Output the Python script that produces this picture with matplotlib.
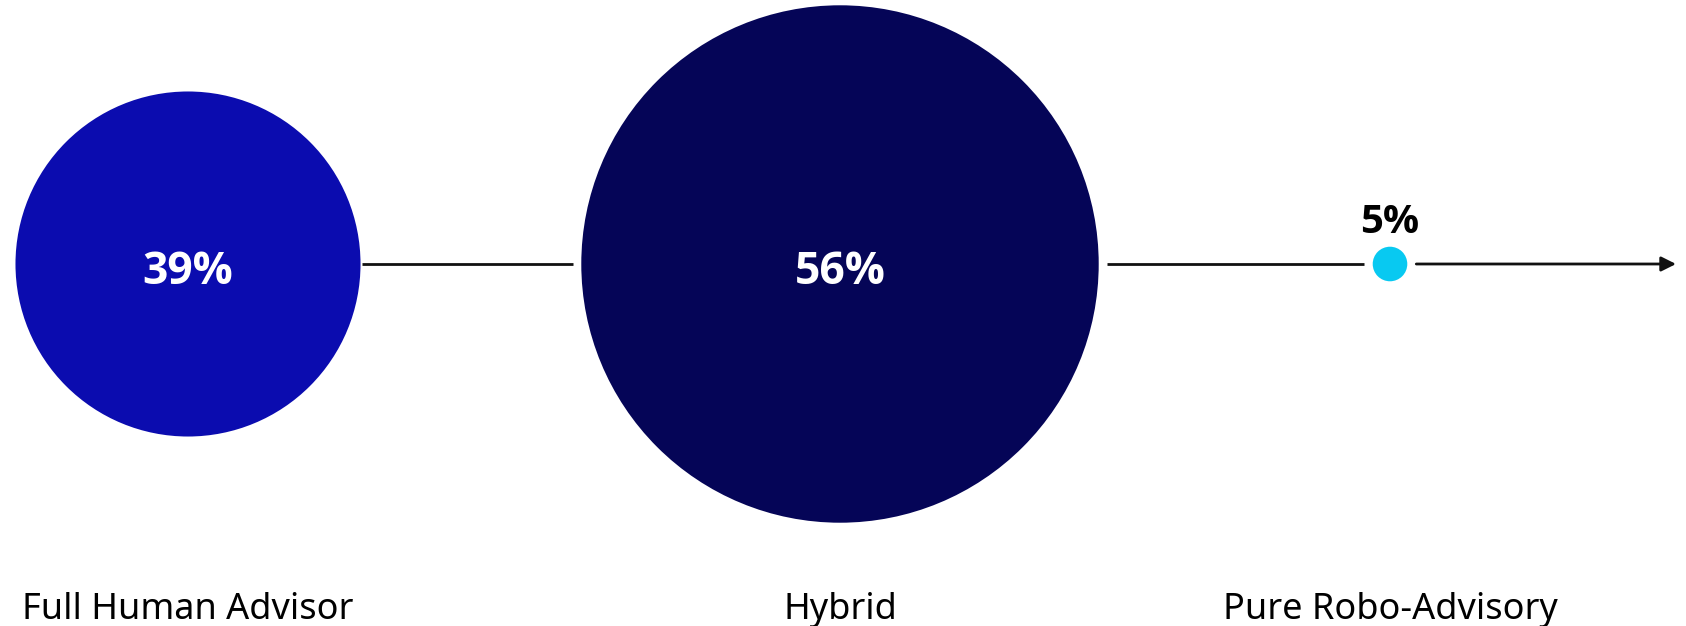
import matplotlib
matplotlib.use("Agg")
import matplotlib.pyplot as plt
from matplotlib.patches import Circle

# Share of clients by advisory model
categories = ["Full Human Advisor", "Hybrid", "Pure Robo-Advisory"]
shares = [39, 56, 5]
value_labels = ["39%", "56%", "5%"]

# Layout (canvas units = pixels) and styling
W, H = 1686, 626
centers_x = [188, 840, 1390]
axis_y = 264
label_y = 610
radius_scale = 2.85
radius_power = 1.12
colors = ["#0B0CAF", "#050557", "#08C9F1"]
label_colors = ["white", "white", "black"]
font = ["Noto Sans", "DejaVu Sans"]
bold_font = ["Open Sans", "DejaVu Sans"]

fig = plt.figure(figsize=(W / 100, H / 100), dpi=100)
ax = fig.add_axes([0, 0, 1, 1])
ax.set_xlim(0, W)
ax.set_ylim(H, 0)
ax.axis("off")

radii = [radius_scale * v ** radius_power for v in shares]

for cx, r, col in zip(centers_x, radii, colors):
    ax.add_patch(Circle((cx, axis_y), r, facecolor=col, edgecolor="none", zorder=2))

# connector segments between bubbles
gaps = [(1, 8), (8, 9)]
for i, (g0, g1) in enumerate(gaps):
    x0 = centers_x[i] + radii[i] + g0
    x1 = centers_x[i + 1] - radii[i + 1] - g1
    ax.plot([x0, x1], [axis_y, axis_y], color="#111111", lw=2, zorder=1,
            solid_capstyle="butt")

# trailing arrow after the last bubble
x_start = centers_x[-1] + radii[-1] + 9
ax.annotate("", xy=(1676, axis_y), xytext=(x_start, axis_y),
            arrowprops=dict(arrowstyle="-|>", color="#111111", lw=2,
                            mutation_scale=22, shrinkA=0, shrinkB=0))

for i, (cx, r, txt) in enumerate(zip(centers_x, radii, value_labels)):
    if r > 60:
        ax.text(cx, axis_y + 8, txt, ha="center", va="center", fontsize=32,
                fontweight="bold", color=label_colors[i], family=bold_font, zorder=3)
    else:
        ax.text(cx, axis_y - r - 24, txt, ha="center", va="center", fontsize=29,
                fontweight="bold", color=label_colors[i], family=bold_font, zorder=3)

for cx, name in zip(centers_x, categories):
    ax.text(cx, label_y, name, ha="center", va="center", fontsize=26,
            color="black", family=font)

fig.savefig("out.png", dpi=100, facecolor="white")
